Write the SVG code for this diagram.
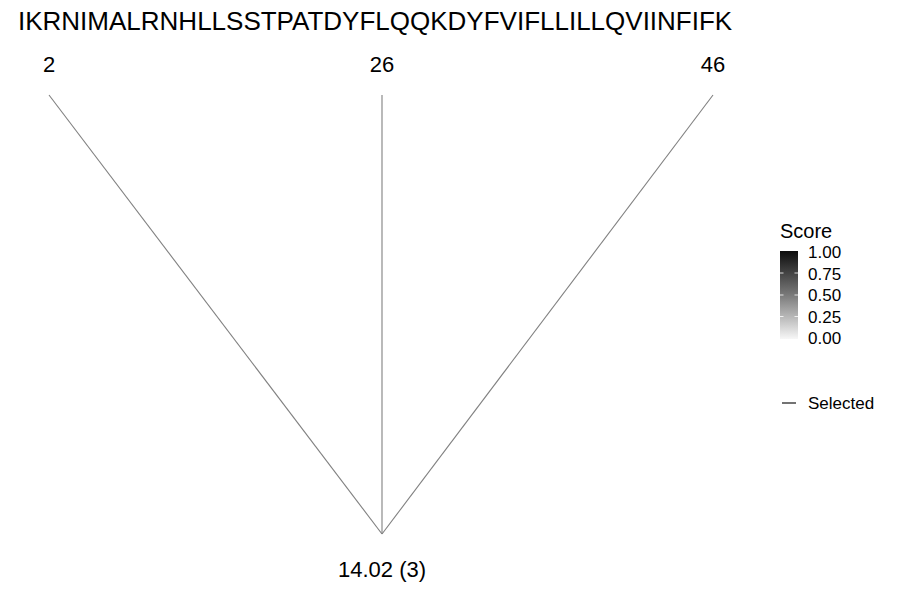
<svg xmlns="http://www.w3.org/2000/svg" width="900" height="600" viewBox="0 0 900 600">
<style>
text { font-family: "Liberation Sans", Arial, sans-serif; fill: #000; }
.seq { font-size: 26px; }
.pos { font-size: 22px; text-anchor: middle; }
.conn { stroke: #808080; stroke-width: 1.1; fill: none; }
.leg { font-size: 17px; }
.tick { stroke: #ffffff; stroke-width: 0.8; }
</style>
<defs>
<linearGradient id="scoreGrad" x1="0" y1="0" x2="0" y2="1">
<stop offset="0" stop-color="#0d0d0d"/>
<stop offset="0.5" stop-color="#7a7a7a"/>
<stop offset="1" stop-color="#f7f7f7"/>
</linearGradient>
</defs>
<rect width="900" height="600" fill="#ffffff"/>
<g id="sequence">
<text class="seq" x="18" y="30">IKRNIMALRNHLLSSTPATDYFLQQKDYFVIFLLILLQVIINFIFK</text>
</g>
<g id="connectors">
<line class="conn" x1="49" y1="95" x2="382" y2="534"/>
<line class="conn" x1="382" y1="95" x2="382" y2="534"/>
<line class="conn" x1="713" y1="95" x2="382" y2="534"/>
</g>
<g id="node-2"><text class="pos" x="49" y="72">2</text></g>
<g id="node-26"><text class="pos" x="382" y="72">26</text></g>
<g id="node-46"><text class="pos" x="713" y="72">46</text></g>
<g id="node-result"><text class="pos" x="382" y="577">14.02 (3)</text></g>
<g id="legend-score">
<text x="780" y="238" style="font-size:20px">Score</text>
<rect x="780" y="251" width="18" height="88" fill="url(#scoreGrad)"/>
<line class="tick" x1="780" y1="273" x2="783.5" y2="273"/><line class="tick" x1="794.5" y1="273" x2="798" y2="273"/>
<line class="tick" x1="780" y1="295" x2="783.5" y2="295"/><line class="tick" x1="794.5" y1="295" x2="798" y2="295"/>
<line class="tick" x1="780" y1="316.5" x2="783.5" y2="316.5"/><line class="tick" x1="794.5" y1="316.5" x2="798" y2="316.5"/>
<text class="leg" x="808" y="258">1.00</text>
<text class="leg" x="808" y="279.5">0.75</text>
<text class="leg" x="808" y="301">0.50</text>
<text class="leg" x="808" y="322.5">0.25</text>
<text class="leg" x="808" y="344">0.00</text>
</g>
<g id="legend-selected">
<line x1="782" y1="403" x2="796" y2="403" stroke="#000" stroke-width="1.1"/>
<text class="leg" x="808" y="408.5">Selected</text>
</g>
</svg>
